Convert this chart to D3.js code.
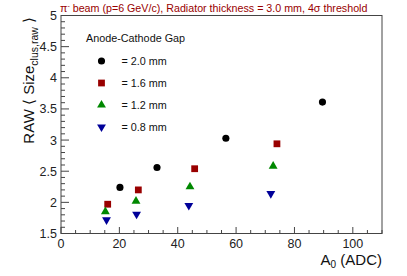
<!DOCTYPE html>
<html><head><meta charset="utf-8">
<script src="https://cdn.jsdelivr.net/npm/d3@7"></script>
<style>body{margin:0;background:#fff}svg{display:block;font-family:"Liberation Sans",Arial,sans-serif}</style>
</head><body>
<svg id="c" width="407" height="276"></svg>
<script>
const gapLabels = ["= 2.0 mm", "= 1.6 mm", "= 1.2 mm", "= 0.8 mm"];
const gap20 = [[20.2, 2.24], [32.9, 2.56], [56.5, 3.03], [89.6, 3.61]];
const gap16 = [[16.0, 1.97], [26.5, 2.20], [45.8, 2.54], [74.0, 2.94]];
const gap12 = [[15.2, 1.85], [25.7, 2.02], [44.2, 2.25], [72.7, 2.58]];
const gap08 = [[15.6, 1.72], [25.9, 1.81], [43.8, 1.95], [71.9, 2.14]];
const xTicks = [0, 20, 40, 60, 80, 100];
const yTicks = [1.5, 2, 2.5, 3, 3.5, 4, 4.5, 5];

const series = [
  {data: gap20, color: "#000000", shape: "circle"},
  {data: gap16, color: "#990000", shape: "square"},
  {data: gap12, color: "#008800", shape: "triangle"},
  {data: gap08, color: "#000099", shape: "invtriangle"}
];

const svg = d3.select("#c");
const L = 61, R = 382, T = 15.5, B = 233.5;
const x = d3.scaleLinear().domain([0, 110]).range([L, R]);
const y = d3.scaleLinear().domain([1.5, 5]).range([B, T]);

svg.append("rect").attr("x", L).attr("y", T).attr("width", R - L).attr("height", B - T)
  .attr("fill", "none").attr("stroke", "#444").attr("stroke-width", 1);

const xMinor = d3.range(0, 111, 5);
svg.append("g").selectAll("line").data(xMinor).join("line")
  .attr("x1", d => x(d)).attr("x2", d => x(d))
  .attr("y1", B).attr("y2", d => B - (d % 20 === 0 ? 6.5 : 3.5))
  .attr("stroke", "#444");
svg.append("g").selectAll("text").data(xTicks).join("text")
  .attr("x", d => x(d)).attr("y", B + 14.5).attr("text-anchor", "middle")
  .attr("font-size", 12.5).attr("fill", "#222").text(d => d);

const yMinor = d3.range(15, 51).map(v => v / 10);
svg.append("g").selectAll("line").data(yMinor).join("line")
  .attr("y1", d => y(d)).attr("y2", d => y(d))
  .attr("x1", L).attr("x2", d => L + (Math.round(d * 10) % 5 === 0 ? 8 : 4))
  .attr("stroke", "#444");
svg.append("g").selectAll("text").data(yTicks).join("text")
  .attr("x", L - 4).attr("y", d => y(d) + 4.5).attr("text-anchor", "end")
  .attr("font-size", 12.5).attr("fill", "#222").text(d => d);

function sym(shape) {
  if (shape === "circle") return d3.symbol(d3.symbolCircle, 40)();
  if (shape === "square") return d3.symbol(d3.symbolSquare, 46)();
  return d3.symbol(d3.symbolTriangle, 34)();
}
series.forEach(s => {
  svg.append("g").selectAll("path").data(s.data).join("path")
    .attr("d", sym(s.shape))
    .attr("transform", d => `translate(${x(d[0])},${y(d[1])})` + (s.shape === "invtriangle" ? " rotate(180)" : ""))
    .attr("fill", s.color);
});

svg.append("text").attr("x", 86).attr("y", 42).attr("font-size", 10.8).attr("fill", "#111")
  .text("Anode-Cathode Gap");
const legY = [61, 83, 105, 127];
series.forEach((s, i) => {
  svg.append("path").attr("d", sym(s.shape))
    .attr("transform", `translate(101.5,${legY[i]})` + (s.shape === "invtriangle" ? " rotate(180)" : ""))
    .attr("fill", s.color);
  svg.append("text").attr("x", 121.5).attr("y", legY[i] + 4).attr("font-size", 10.8).attr("fill", "#111")
    .text(gapLabels[i]);
});

const tt = svg.append("text").attr("x", 60).attr("y", 12).attr("font-size", 10.7).attr("fill", "#990000");
tt.append("tspan").text("π");
tt.append("tspan").attr("dy", -4).attr("font-size", 7).text("-");
tt.append("tspan").attr("dy", 4).text(" beam (p=6 GeV/c), Radiator thickness = 3.0 mm, 4σ threshold");

const xl = svg.append("text").attr("x", R).attr("y", 265).attr("text-anchor", "end").attr("font-size", 15).attr("fill", "#111");
xl.append("tspan").text("A");
xl.append("tspan").attr("dy", 3).attr("font-size", 10).text("0");
xl.append("tspan").attr("dy", -3).text(" (ADC)");

const yl = svg.append("text").attr("transform", "translate(34,17) rotate(-90)").attr("text-anchor", "end")
  .attr("font-size", 15).attr("fill", "#111");
yl.append("tspan").text("RAW ⟨ Size");
yl.append("tspan").attr("dy", 4).attr("font-size", 10.5).text("clus,raw");
yl.append("tspan").attr("dy", -4).text(" ⟩");
</script>
</body></html>
